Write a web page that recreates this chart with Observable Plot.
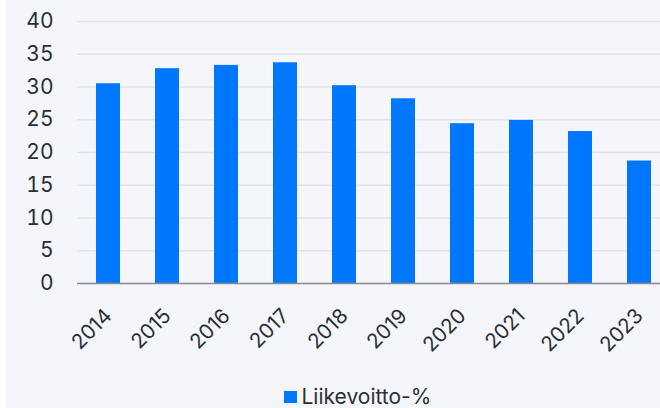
<!DOCTYPE html>
<html>
<head>
<meta charset="utf-8">
<script src="https://cdn.jsdelivr.net/npm/d3@7"></script>
<script src="https://cdn.jsdelivr.net/npm/@observablehq/plot@0.6"></script>
<style>
  html, body { margin: 0; padding: 0; background: #ffffff; width: 660px; height: 408px; overflow: hidden; }
  #wrap { position: absolute; left: 6px; top: 0; width: 654px; height: 408px; background: #f5f6fb; overflow: hidden; }
  #chart svg { max-width: none !important; }
  #legend { position: absolute; left: 278px; top: 384px; height: 26px; line-height: 26px; display: flex; align-items: center; font-family: "Inter", sans-serif; font-size: 21px; color: #2a2f36; }
  #legend .sw { width: 12.5px; height: 12.5px; background: #0077ff; margin-right: 5px; }
</style>
</head>
<body>
<div id="wrap"><div id="chart"></div><div id="legend"><span class="sw"></span><span>Liikevoitto-%</span></div></div>
<script>
const years = ["2014","2015","2016","2017","2018","2019","2020","2021","2022","2023"];
const values = [30.5, 32.8, 33.3, 33.7, 30.2, 28.2, 24.4, 24.9, 23.2, 18.7];
const yTicks = [0, 5, 10, 15, 20, 25, 30, 35, 40];
const seriesName = "Liikevoitto-%";

const data = years.map((y, i) => ({year: y, value: values[i]}));

const chart = Plot.plot({
  width: 664,
  height: 385,
  marginLeft: 71,
  marginRight: 0,
  marginTop: 21,
  marginBottom: 102,
  style: {background: "transparent", fontFamily: "Inter, sans-serif", fontSize: "20px", color: "#2a2f36", overflow: "visible", maxWidth: "none"},
  x: {domain: years, paddingInner: 0.595, paddingOuter: 0.2975, label: null},
  y: {domain: [0, 40], label: null},
  marks: [
    Plot.gridY(yTicks, {stroke: "#e3e4e9", strokeOpacity: 1, strokeWidth: 1.5}),
    Plot.barY(data, {x: "year", y: "value", fill: "#0077ff"}),
    Plot.ruleY([0], {stroke: "#8a8c90", strokeWidth: 1.5}),
    Plot.axisY(yTicks, {tickSize: 0, tickPadding: 24, label: null, fontSize: 21}),
    Plot.axisX({tickSize: 0, tickRotate: -45, tickPadding: 29, dx: 0, label: null, fontSize: 20.5})
  ]
});
document.getElementById("chart").appendChild(chart);
</script>
</body>
</html>
